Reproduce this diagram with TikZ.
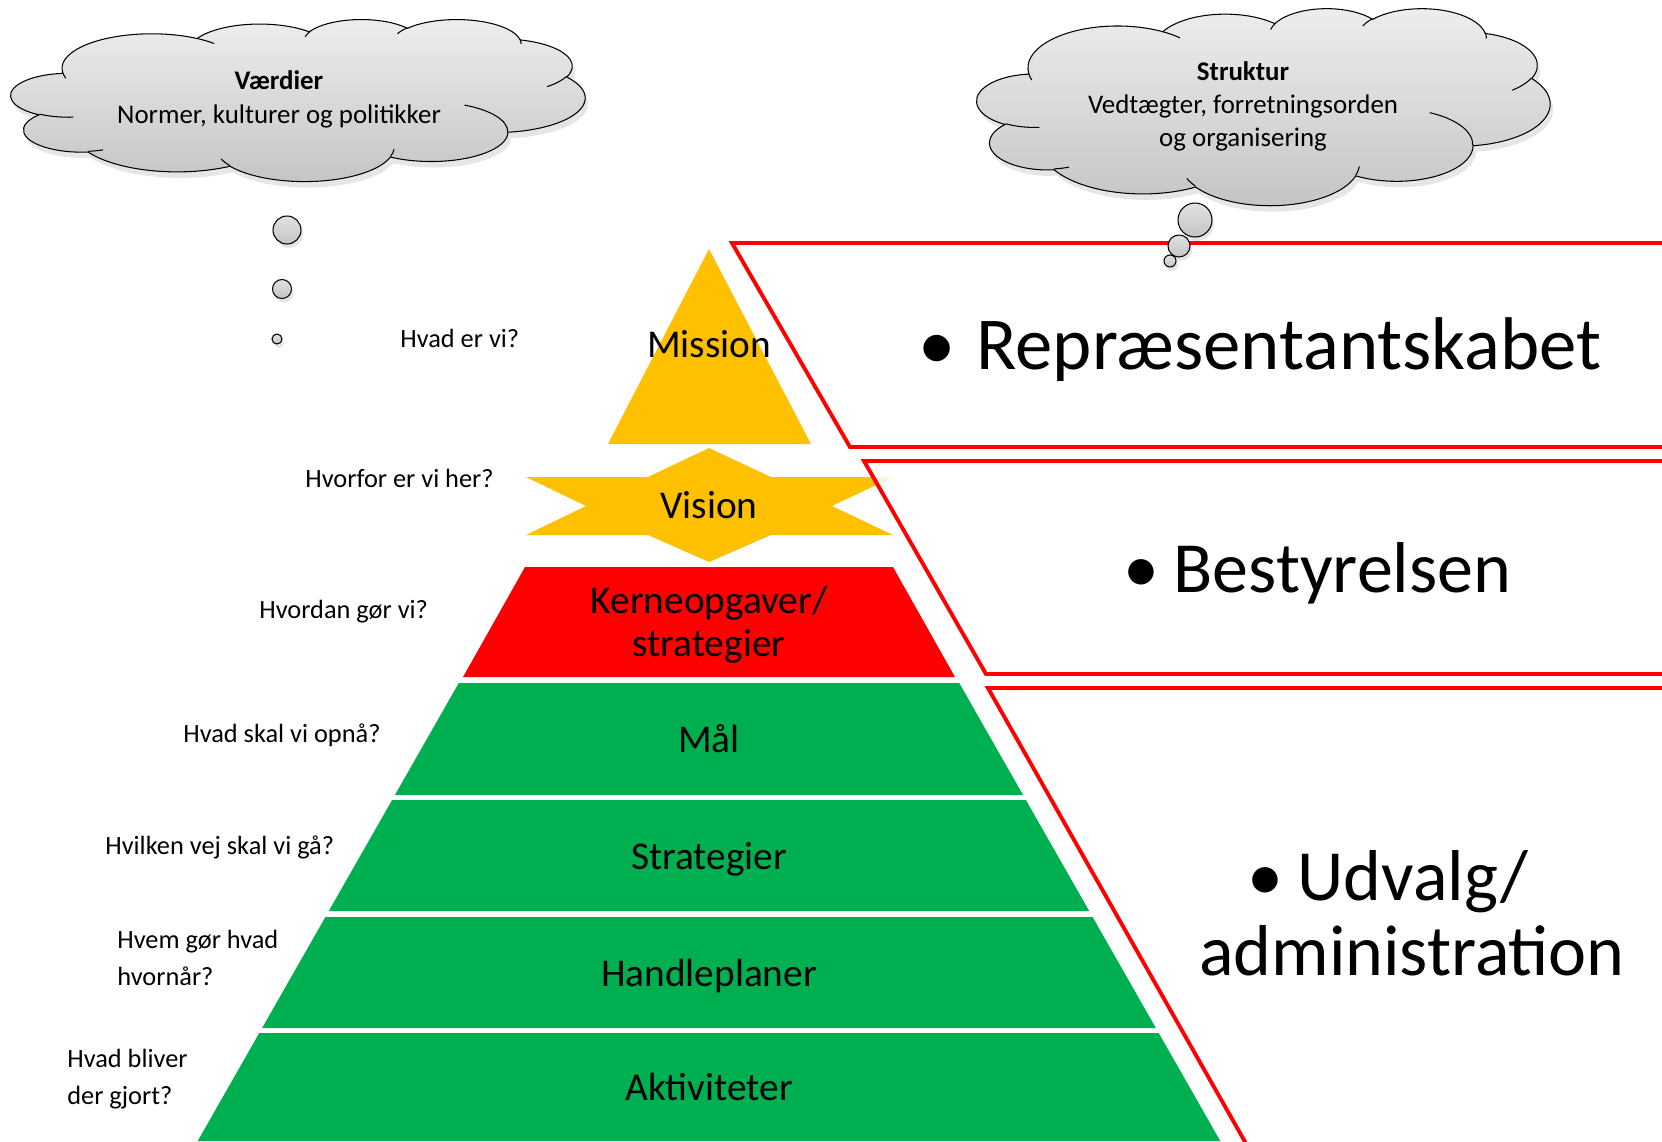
\documentclass[tikz,border=0pt]{standalone}
\usepackage{fontspec}
\setmainfont{Carlito}
\usetikzlibrary{shadows}
\definecolor{pyrgold}{RGB}{255,192,0}
\definecolor{pyrred}{RGB}{255,0,0}
\definecolor{pyrgreen}{RGB}{0,176,80}
\definecolor{framered}{RGB}{255,0,0}
\definecolor{cloudtop}{RGB}{238,238,238}
\definecolor{cloudbot}{RGB}{196,196,196}
% arc given like an Office arcTo: x radius, y radius, start angle, sweep (visual angles)
\newcommand{\cloudarc}[4]{arc[x radius=#1, y radius=#2,
  start angle={atan2((#1)*sin(#3),(#2)*cos(#3))},
  delta angle={mod(atan2((#1)*sin((#3)+(#4)),(#2)*cos((#3)+(#4)))-atan2((#1)*sin(#3),(#2)*cos(#3))-(#4)+540,360)-180+(#4)}]}
% cloud outline in a 432 x 432 box
\newcommand{\cloudoutline}{(39,143.7) \cloudarc{67.53}{91.90}{-190.4875}{123.7805}
  \cloudarc{53.33}{72.67}{-144.1024}{89.9452} \cloudarc{43.65}{59.45}{-145.8079}{99.7230}
  \cloudarc{48.57}{65.95}{-130.9861}{117.2417} \cloudarc{53.33}{72.73}{-78.7089}{109.0269}
  \cloudarc{67.75}{92.20}{-46.2673}{130.2690} \cloudarc{57.85}{78.67}{0.6250}{114.0333}
  \cloudarc{67.52}{92.15}{22.4516}{115.1726} \cloudarc{77.20}{105.43}{66.2426}{75.7110}
  \cloudarc{43.60}{59.18}{-274.9421}{146.7356} \cloudarc{43.45}{59.45}{-246.8285}{152.5189} -- cycle}
\newcommand{\cloudinner}{(46.93,261.77) \cloudarc{43.45}{59.45}{86.742}{26.4295}
  (69.28,348.99) \cloudarc{43.60}{59.18}{73.6105}{11.4475}
  (164.78,390.90) \cloudarc{67.52}{92.15}{137.6242}{14.0811}
  (288.27,347.51) \cloudarc{67.52}{92.15}{6.4533}{15.9984}
  (341.29,229.54) \cloudarc{57.85}{78.67}{-70.2924}{70.9174}
  (417.98,153.54) \cloudarc{53.33}{72.73}{30.3180}{27.7515}
  (383.24,54.26) \cloudarc{48.57}{65.95}{-13.7443}{14.8589}
  (290.78,39.52) \cloudarc{48.57}{65.95}{-149.1815}{18.1954}
  (221.41,47.20) \cloudarc{43.65}{59.45}{-163.4943}{17.6864}
  (140.00,51.92) \cloudarc{67.53}{91.90}{-66.7070}{12.3194}
  (41.27,157.89) \cloudarc{67.53}{91.90}{157.6544}{11.8582}}
\tikzset{
  asktext/.style={anchor=west, align=left, inner sep=0pt, text depth=0pt, font=\fontsize{15}{21}\selectfont},
  laytext/.style={align=center, inner sep=0pt, text depth=0pt, font=\fontsize{22.4}{24.4}\selectfont},
  bigtext/.style={align=center, inner sep=0pt, text depth=0pt, font=\fontsize{41}{42.7}\selectfont},
  cloudtext/.style={align=center, inner sep=0pt, text depth=0pt, font=\fontsize{15.3}{19}\selectfont},
  bodyframe/.style={draw=framered, line width=2.2pt, fill=white, fill opacity=0.85},
  cloudbody/.style={draw=black, line width=0.6pt, top color=cloudtop, bottom color=cloudbot,
    drop shadow={opacity=0.2, shadow xshift=0.6mm, shadow yshift=-1.2mm}},
  cloudline/.style={draw=black, line width=0.6pt},
  bubble/.style={draw=black, line width=0.6pt, top color=cloudtop!70!cloudbot, bottom color=cloudbot,
    drop shadow={opacity=0.2, shadow xshift=0.4mm, shadow yshift=-0.8mm}}
}
\begin{document}
\begin{tikzpicture}[x=0.2mm, y=-0.2mm]
\useasboundingbox (0,0) rectangle (1662,1141);
\clip (0,0) rectangle (1662,1141);

% Mission (top triangle)
\fill[pyrgold] (709,249) -- (811,444) -- (608,444) -- cycle;
\node[laytext] (mission) at (709,344) {Mission};

% Vision (star band)
\fill[pyrgold] (709,448) -- (771,477) -- (893,477) -- (832,506) -- (893,535) -- (771,535)
  -- (709,562) -- (648,535) -- (526,535) -- (586,506) -- (526,477) -- (648,477) -- cycle;
\node[laytext] (vision) at (709,505) {Vision};

% Kerneopgaver layer
\fill[pyrred] (525,567) -- (893,567) -- (955,677) -- (463,677) -- cycle;
\node[laytext] (kerne) at (709,621) {Kerneopgaver/\\strategier};

% Green layers
\foreach \ytop/\ybot/\nm/\txt in {683/795/maal/Mål, 800/911/strat/Strategier,
                                   917/1028/handle/Handleplaner, 1033/1141/aktiv/Aktiviteter} {
    \fill[pyrgreen] ({709-0.57*(\ytop-244)},\ytop) -- ({709+0.57*(\ytop-244)},\ytop)
      -- ({709+0.57*(\ybot-244)},\ybot) -- ({709-0.57*(\ybot-244)},\ybot) -- cycle;
    \node[laytext] (\nm) at (709,{(\ytop+\ybot)/2}) {\txt};
}

% Right frames
\draw[bodyframe] (732,243) -- (1700,243) -- (1700,447) -- (850,447) -- cycle;
\draw[bodyframe] (864,461) -- (1700,461) -- (1700,674) -- (986,674) -- cycle;
\draw[bodyframe] (988,688) -- (1700,688) -- (1700,1200) -- (1278,1200) -- cycle;

\node[bigtext, anchor=west, font=\fontsize{42.5}{44}\selectfont] (repr) at (918,344) {•\hspace{0.28em}Repræsentantskabet};
\node[bigtext, anchor=west] (best) at (1123,567) {•\hspace{0.2em}Bestyrelsen};
\node[bigtext] (udvalg) at (1412,913) {•\hspace{0.2em}Udvalg/\hspace*{9.6mm}\\administration};

% Questions on the left
\node[asktext] (q1) at (400,338) {Hvad er vi?};
\node[asktext] (q2) at (305,478) {Hvorfor er vi her?};
\node[asktext] (q3) at (259,609) {Hvordan gør vi?};
\node[asktext] (q4) at (183,733) {Hvad skal vi opnå?};
\node[asktext] (q5) at (105,845) {Hvilken vej skal vi gå?};
\node[asktext] (q6) at (117,958) {Hvem gør hvad\\hvornår?};
\node[asktext] (q7) at (67,1077) {Hvad bliver\\der gjort?};

% Values cloud
\begin{scope}[shift={(11,19)}, x=0.26574mm, y=-0.075mm]
\path[cloudbody] \cloudoutline;
\path[cloudline] \cloudinner;
\end{scope}
\node[cloudtext] (valtext) at (279,97) {\textbf{Værdier}\\Normer, kulturer og politikker};
\draw[bubble] (287,230) circle (14);
\draw[bubble] (282,289) circle (9.5);
\draw[bubble] (277,339) circle (5);

% Structure cloud
\begin{scope}[shift={(977,8)}, x=0.26528mm, y=-0.0912mm]
\path[cloudbody] \cloudoutline;
\path[cloudline] \cloudinner;
\end{scope}
\node[cloudtext] (strtext) at (1243,104) {\textbf{Struktur}\\Vedtægter, forretningsorden\\og organisering};
\draw[bubble] (1195,220) circle (17);
\draw[bubble] (1179,246) circle (11);
\draw[bubble] (1170,261) circle (6);
\end{tikzpicture}
\end{document}
